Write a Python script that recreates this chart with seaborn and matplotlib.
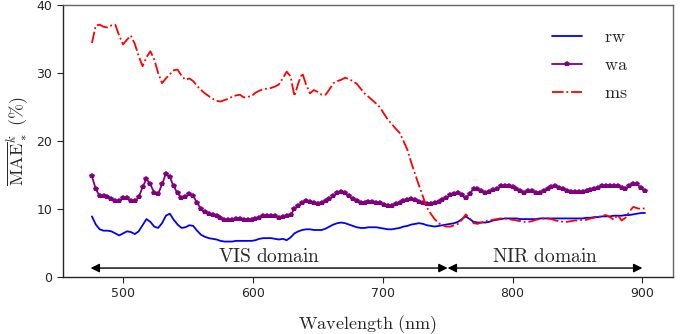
import numpy as np
import pandas as pd
import matplotlib
matplotlib.use("Agg")
import matplotlib.pyplot as plt
import seaborn as sns

# ---- data ----
wavelength = np.arange(476, 903, 3)

ms = [34.4, 37.0, 37.1, 36.8, 36.7, 37.0, 37.1, 35.5, 34.2, 34.9,
      35.5, 34.3, 32.5, 31.0, 32.3, 33.2, 32.0, 30.0, 28.5, 29.2,
      29.8, 30.4, 30.5, 29.6, 29.0, 29.2, 28.8, 28.1, 27.5, 27.0,
      26.6, 26.2, 25.9, 25.8, 26.0, 26.2, 26.5, 26.7, 26.8, 26.4,
      26.5, 26.6, 27.1, 27.4, 27.6, 27.7, 27.8, 28.0, 28.3, 29.2,
      30.2, 29.5, 26.6, 28.5, 30.0, 28.3, 27.0, 27.5, 27.2, 26.8,
      26.8, 27.6, 28.5, 28.8, 29.0, 29.3, 29.1, 28.8, 28.4, 27.7,
      27.0, 26.5, 26.0, 25.5, 24.9, 24.0, 23.1, 22.5, 21.8, 21.2,
      20.0, 18.7, 16.8, 15.1, 13.4, 11.8, 10.2, 9.3, 8.5, 7.9,
      7.6, 7.4, 7.4, 7.6, 7.8, 8.4, 9.2, 8.6, 7.9, 7.8,
      8.0, 8.2, 8.3, 8.4, 8.5, 8.6, 8.6, 8.5, 8.4, 8.3,
      8.2, 8.1, 8.1, 8.2, 8.4, 8.5, 8.6, 8.6, 8.5, 8.3,
      8.2, 8.1, 8.1, 8.2, 8.3, 8.3, 8.4, 8.4, 8.6, 8.7,
      8.8, 9.0, 9.1, 8.8, 8.4, 9.1, 8.3, 8.7, 9.6, 10.3,
      10.1, 10.0, 10.1]

wa = [14.8, 12.9, 11.9, 11.9, 11.8, 11.5, 11.2, 11.1, 11.6, 11.6,
      11.2, 11.1, 11.7, 13.2, 14.4, 13.6, 12.4, 12.2, 13.6, 15.2,
      14.7, 13.3, 12.3, 11.6, 11.8, 12.2, 11.9, 10.9, 10.0, 9.5,
      9.3, 9.1, 8.9, 8.6, 8.3, 8.4, 8.4, 8.5, 8.5, 8.4,
      8.3, 8.4, 8.5, 8.7, 9.0, 9.0, 9.0, 8.9, 8.7, 8.8,
      8.9, 9.1, 10.0, 10.5, 10.8, 11.1, 11.0, 10.8, 10.7, 10.9,
      11.1, 11.4, 11.9, 12.4, 12.5, 12.3, 11.9, 11.4, 11.1, 10.9,
      10.9, 11.0, 11.0, 10.9, 10.8, 10.6, 10.4, 10.5, 10.7, 10.9,
      11.1, 11.3, 11.4, 11.3, 11.0, 10.8, 10.7, 10.7, 10.8, 11.0,
      11.3, 11.6, 12.0, 12.2, 12.3, 12.0, 11.6, 12.2, 13.0, 12.9,
      12.6, 12.3, 12.5, 12.8, 13.0, 13.3, 13.4, 13.3, 13.2, 13.0,
      12.6, 12.4, 12.6, 12.7, 12.4, 12.4, 12.7, 12.9, 13.2, 13.3,
      13.1, 12.9, 12.7, 12.5, 12.5, 12.5, 12.5, 12.6, 12.8, 12.9,
      13.1, 13.3, 13.4, 13.4, 13.4, 13.3, 13.1, 13.0, 13.3, 13.7,
      13.6, 13.1, 12.7]

rw = [8.9, 7.7, 7.0, 6.8, 6.8, 6.7, 6.4, 6.1, 6.4, 6.7,
      6.6, 6.3, 6.7, 7.6, 8.5, 8.1, 7.4, 7.2, 7.9, 9.0,
      9.3, 8.4, 7.7, 7.2, 7.3, 7.6, 7.5, 6.8, 6.2, 5.9,
      5.7, 5.6, 5.5, 5.3, 5.2, 5.2, 5.2, 5.3, 5.3, 5.3,
      5.3, 5.3, 5.4, 5.6, 5.7, 5.7, 5.7, 5.6, 5.5, 5.6,
      5.4, 5.8, 6.4, 6.7, 6.9, 7.0, 7.0, 6.9, 6.9, 6.9,
      7.1, 7.4, 7.7, 7.9, 8.0, 7.9, 7.7, 7.5, 7.3, 7.2,
      7.2, 7.3, 7.3, 7.3, 7.2, 7.1, 7.0, 7.0, 7.1, 7.2,
      7.4, 7.5, 7.7, 7.8, 7.9, 7.8, 7.6, 7.5, 7.4, 7.5,
      7.6, 7.7, 7.8, 7.9, 8.1, 8.5, 8.9, 8.5, 8.1, 8.0,
      8.0, 8.0, 8.1, 8.3, 8.4, 8.5, 8.6, 8.6, 8.6, 8.6,
      8.5, 8.5, 8.5, 8.5, 8.5, 8.6, 8.6, 8.6, 8.6, 8.6,
      8.6, 8.6, 8.6, 8.6, 8.6, 8.6, 8.6, 8.7, 8.7, 8.8,
      8.8, 8.9, 8.9, 8.9, 9.0, 9.0, 9.0, 9.1, 9.1, 9.2,
      9.3, 9.4, 9.4]

series_names = ["rw", "wa", "ms"]
domains = ["VIS domain", "NIR domain"]
domain_start = [475, 750]
domain_end = [750, 900]
xticks = [500, 600, 700, 800, 900]
yticks = [0, 10, 20, 30, 40]

assert len(wavelength) == len(ms) == len(wa) == len(rw)

df = pd.DataFrame({"Wavelength": np.tile(wavelength, 3),
                   "value": np.concatenate([rw, wa, ms]),
                   "series": np.repeat(series_names, len(wavelength))})

# ---- style ----
sns.set_style("ticks")
plt.rcParams["font.family"] = ["DejaVu Sans"]
plt.rcParams["mathtext.fontset"] = "cm"

fig = plt.figure(figsize=(6.83, 3.34), dpi=100)
ax = fig.add_axes([0.092, 0.171, 0.893, 0.814])

styles = {"rw": dict(color="blue", linestyle="-", marker=None),
          "wa": dict(color="purple", linestyle="-", marker="p", markersize=4,
                     markeredgewidth=0),
          "ms": dict(color="red", linestyle="-.", marker=None)}

for name in series_names:
    sub = df[df["series"] == name]
    st = styles[name]
    sns.lineplot(data=sub, x="Wavelength", y="value", ax=ax,
                 color=st["color"], linestyle=st["linestyle"],
                 marker=st["marker"], markersize=st.get("markersize", 0),
                 markeredgewidth=st.get("markeredgewidth", 0),
                 linewidth=1.3, label=r"$\mathrm{%s}$" % name)

ax.set_ylim(0, 40)
ax.set_xlim(453.6, 923.4)
ax.set_xticks(xticks)
ax.set_yticks(yticks)
ax.tick_params(labelsize=9, length=4, width=0.8)
for s in ["top", "right"]:
    ax.spines[s].set_color("0.4")
for s in ax.spines.values():
    s.set_linewidth(1.0)

ax.set_xlabel(r"$\mathrm{Wavelength\ (nm)}$", fontsize=13, labelpad=9)
ax.set_ylabel(r"$\overline{\mathrm{MAE}}_*^k\ (\%)$", fontsize=13, labelpad=4)

# domain arrows
arrow_y = 1.3
for lab, a, b in zip(domains, domain_start, domain_end):
    ax.annotate("", xy=(b, arrow_y), xytext=(a, arrow_y),
                arrowprops=dict(arrowstyle="<|-|>", color="black", lw=1.0,
                                mutation_scale=13, shrinkA=0, shrinkB=0))
    ax.text((a + b) / 2, 1.6, r"$\mathrm{%s}$" % lab.replace(" ", r"\ "),
            ha="center", va="bottom", fontsize=14)

leg = ax.legend(loc="upper right", frameon=False, fontsize=13,
                handlelength=1.7, labelspacing=0.55, borderaxespad=0.9,
                handletextpad=1.2, bbox_to_anchor=(0.965, 1.0))

fig.savefig("out.png", dpi=100)
